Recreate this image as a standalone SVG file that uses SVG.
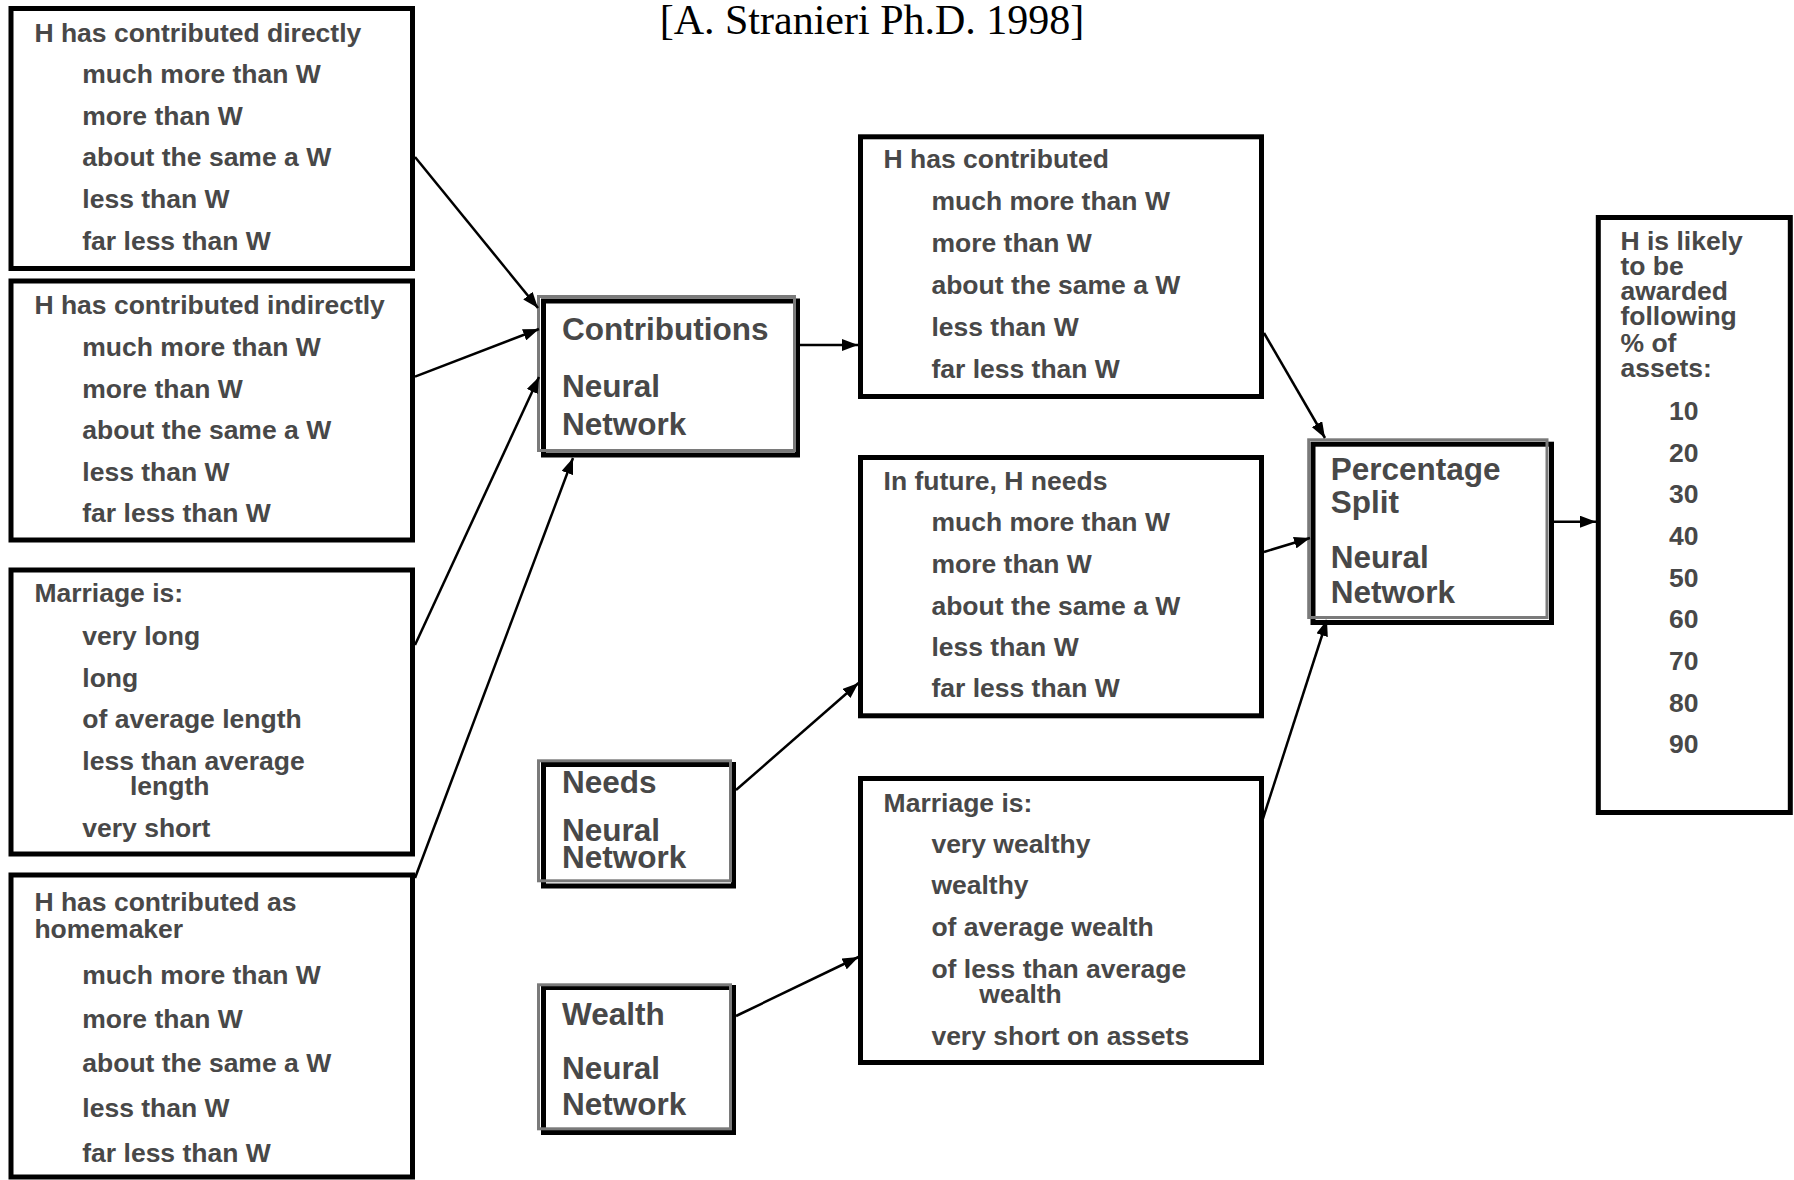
<svg xmlns="http://www.w3.org/2000/svg" width="1794" height="1180" viewBox="0 0 1794 1180">
<defs>
<style>
.box{fill:#fff;stroke:#000;stroke-width:5}
.sh{fill:none;stroke:#7a7a7a;stroke-width:3}
.t{font-family:"Liberation Sans",Arial,sans-serif;font-weight:bold;font-size:26.5px;fill:#484848}
.nn{font-family:"Liberation Sans",Arial,sans-serif;font-weight:bold;font-size:31.5px;fill:#484848}
.title{font-family:"Liberation Serif","Times New Roman",serif;font-size:42px;fill:#000}
.c{stroke:#000;stroke-width:2.5;fill:none;marker-end:url(#ah)}
</style>
<marker id="ah" markerUnits="userSpaceOnUse" markerWidth="16" markerHeight="12" refX="16" refY="6" orient="auto">
<path d="M0,0 L16,6 L0,12 z" fill="#000"/>
</marker>
</defs>
<rect width="1794" height="1180" fill="#fff"/>
<text class="title" x="659.7" y="34">[A. Stranieri Ph.D. 1998]</text>

<g id="box-direct">
<rect class="box" x="11" y="8.5" width="401.5" height="260"/>
<text class="t" x="34.4" y="41.7">H has contributed directly</text>
<text class="t" x="82.3" y="83.3">much more than W</text>
<text class="t" x="82.3" y="125">more than W</text>
<text class="t" x="82.3" y="166.4">about the same a W</text>
<text class="t" x="82.3" y="208">less than W</text>
<text class="t" x="82.3" y="250">far less than W</text>
</g>

<g id="box-indirect">
<rect class="box" x="11" y="281" width="401.5" height="259"/>
<text class="t" x="34.4" y="314.3">H has contributed indirectly</text>
<text class="t" x="82.3" y="355.9">much more than W</text>
<text class="t" x="82.3" y="397.5">more than W</text>
<text class="t" x="82.3" y="439.1">about the same a W</text>
<text class="t" x="82.3" y="480.7">less than W</text>
<text class="t" x="82.3" y="522.3">far less than W</text>
</g>

<g id="box-length">
<rect class="box" x="11" y="570" width="401.5" height="284"/>
<text class="t" x="34.4" y="602.3">Marriage is:</text>
<text class="t" x="82.3" y="645">very long</text>
<text class="t" x="82.3" y="686.7">long</text>
<text class="t" x="82.3" y="728.3">of average length</text>
<text class="t" x="82.3" y="770">less than average</text>
<text class="t" x="130" y="795">length</text>
<text class="t" x="82.3" y="836.7">very short</text>
</g>

<g id="box-homemaker">
<rect class="box" x="11" y="875" width="401.5" height="302"/>
<text class="t" x="34.4" y="910.7">H has contributed as</text>
<text class="t" x="34.4" y="938.3">homemaker</text>
<text class="t" x="82.3" y="984">much more than W</text>
<text class="t" x="82.3" y="1028.3">more than W</text>
<text class="t" x="82.3" y="1072.3">about the same a W</text>
<text class="t" x="82.3" y="1117.3">less than W</text>
<text class="t" x="82.3" y="1161.7">far less than W</text>
</g>

<g id="nn-contributions">
<rect class="box" x="543.5" y="301" width="254" height="154"/>
<rect class="sh" x="538.5" y="296.5" width="256" height="154"/>
<text class="nn" x="562" y="340">Contributions</text>
<text class="nn" x="562" y="396.7">Neural</text>
<text class="nn" x="562" y="435">Network</text>
</g>

<g id="nn-needs">
<rect class="box" x="543.5" y="764.5" width="190" height="121.5"/>
<rect class="sh" x="538.5" y="760.8" width="192" height="120"/>
<text class="nn" x="562" y="793.3">Needs</text>
<text class="nn" x="562" y="841">Neural</text>
<text class="nn" x="562" y="868.3">Network</text>
</g>

<g id="nn-wealth">
<rect class="box" x="543.5" y="987.5" width="190" height="145"/>
<rect class="sh" x="538.5" y="984.8" width="192" height="144"/>
<text class="nn" x="562" y="1025">Wealth</text>
<text class="nn" x="562" y="1079.3">Neural</text>
<text class="nn" x="562" y="1115">Network</text>
</g>

<g id="box-contributed">
<rect class="box" x="860.5" y="136.8" width="401" height="259.7"/>
<text class="t" x="883.6" y="168.3">H has contributed</text>
<text class="t" x="931.4" y="210.4">much more than W</text>
<text class="t" x="931.4" y="252.3">more than W</text>
<text class="t" x="931.4" y="294">about the same a W</text>
<text class="t" x="931.4" y="336">less than W</text>
<text class="t" x="931.4" y="378">far less than W</text>
</g>

<g id="box-needs">
<rect class="box" x="860.5" y="457.5" width="401" height="258.3"/>
<text class="t" x="883.6" y="490">In future, H  needs</text>
<text class="t" x="931.4" y="531.4">much more than W</text>
<text class="t" x="931.4" y="572.8">more than W</text>
<text class="t" x="931.4" y="614.6">about the same a W</text>
<text class="t" x="931.4" y="656">less than W</text>
<text class="t" x="931.4" y="697">far less than W</text>
</g>

<g id="box-wealth">
<rect class="box" x="860.5" y="778.5" width="401" height="284"/>
<text class="t" x="883.6" y="811.7">Marriage is:</text>
<text class="t" x="931.4" y="853.3">very wealthy</text>
<text class="t" x="931.4" y="894">wealthy</text>
<text class="t" x="931.4" y="936">of average wealth</text>
<text class="t" x="931.4" y="978.3">of less than average</text>
<text class="t" x="979.3" y="1002.7">wealth</text>
<text class="t" x="931.4" y="1045">very short on assets</text>
</g>

<g id="nn-percentage">
<rect class="box" x="1313" y="444.2" width="238.5" height="178.3"/>
<rect class="sh" x="1308.7" y="439.8" width="238.3" height="177.7"/>
<text class="nn" x="1330.7" y="480">Percentage</text>
<text class="nn" x="1330.7" y="513.3">Split</text>
<text class="nn" x="1330.7" y="568.3">Neural</text>
<text class="nn" x="1330.7" y="603.3">Network</text>
</g>

<g id="box-output">
<rect class="box" x="1598.3" y="217.5" width="192" height="595"/>
<text class="t" x="1620.5" y="250">H is likely</text>
<text class="t" x="1620.5" y="275">to be</text>
<text class="t" x="1620.5" y="300">awarded</text>
<text class="t" x="1620.5" y="325">following</text>
<text class="t" x="1620.5" y="351.7">% of</text>
<text class="t" x="1620.5" y="376.7">assets:</text>
<text class="t" x="1669" y="420">10</text>
<text class="t" x="1669" y="461.7">20</text>
<text class="t" x="1669" y="503.3">30</text>
<text class="t" x="1669" y="545">40</text>
<text class="t" x="1669" y="586.7">50</text>
<text class="t" x="1669" y="628.3">60</text>
<text class="t" x="1669" y="670">70</text>
<text class="t" x="1669" y="711.7">80</text>
<text class="t" x="1669" y="753.3">90</text>
</g>

<g id="connectors">
<line class="c" x1="415" y1="157" x2="538" y2="308"/>
<line class="c" x1="415" y1="376.7" x2="539" y2="329"/>
<line class="c" x1="415" y1="645" x2="539" y2="377"/>
<line class="c" x1="415" y1="878" x2="573" y2="458"/>
<line class="c" x1="800" y1="345" x2="858" y2="345"/>
<line class="c" x1="736" y1="790" x2="858.5" y2="683"/>
<line class="c" x1="736" y1="1016" x2="858.5" y2="957"/>
<line class="c" x1="1264" y1="333" x2="1325" y2="438"/>
<line class="c" x1="1264" y1="552" x2="1310" y2="538"/>
<line class="c" x1="1262.5" y1="820" x2="1327" y2="620"/>
<line class="c" x1="1554" y1="521.7" x2="1596" y2="521.7"/>
</g>
</svg>
